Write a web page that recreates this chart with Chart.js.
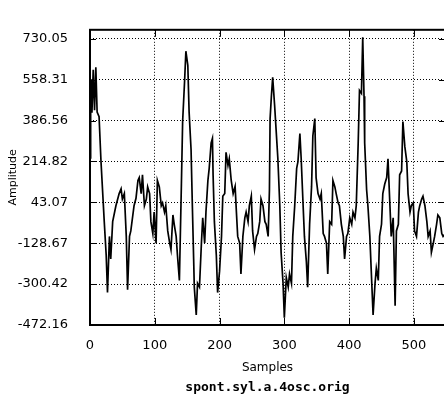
<html>
<head>
<script src="https://cdn.jsdelivr.net/npm/chart.js@4.4.0/dist/chart.umd.min.js"></script>
<style>
body { margin: 0; background: #fff; }
#wrap { width: 444px; height: 398px; overflow: hidden; }
</style>
</head>
<body>
<div id="wrap"><canvas id="myChart" width="446" height="398"></canvas></div>
<script>
// waveform: sample index and amplitude
var samples = [0,1,2,3,5,7,9,11,14,17,22,25,27,30,32,35,40,45,48,50,53,56,58,61,63,68,71,74,76,79,81,84,87,89,92,94,97,99,
  102,104,107,110,112,115,117,120,123,125,128,130,133,135,138,141,143,146,148,151,153,156,158,160,161,164,166,169,172,174,177,179,
  182,184,187,189,190,192,195,197,200,203,205,208,210,213,215,218,221,224,226,228,231,233,236,239,241,244,246,249,251,254,257,259,
  262,264,267,270,272,275,277,278,280,282,285,288,290,293,295,298,300,303,306,308,311,313,316,319,321,324,326,329,331,334,336,339,
  342,344,347,349,352,355,357,360,362,365,367,370,373,375,378,380,383,385,388,391,393,396,398,401,404,406,409,411,414,416,419,421,
  423,424,427,429,432,434,437,440,442,445,447,450,452,455,458,460,463,465,468,471,473,476,478,481,483,486,489,491,494,496,499,
  501,504,507,509,512,514,517,520,522,525,527,530,532,535,537,540,543,545,548];
var amplitude = [230,480,560,420,600,430,611,422,403,214,-38,-179,-336,-100,-195,-38,29,80,100,57,80,-100,-324,-100,-77,29,60,135,147,80,159,29,57,108,80,-38,-88,2,
  -128,135,108,29,41,2,29,-77,-128,-155,-10,-49,-100,-179,-285,108,383,552,678,619,422,265,29,-195,-313,-430,-297,-313,-128,-22,-128,2,
  135,186,293,312,159,-38,-179,-336,-246,-100,69,80,253,198,226,135,80,110,2,-100,-128,-258,-100,-22,2,-38,29,69,-77,-155,-100,-88,
  -38,57,29,-38,-49,-100,96,395,489,568,450,316,226,29,-167,-297,-442,-273,-313,-258,-297,-100,29,186,214,332,226,29,-100,-206,-313,-49,
  108,322,395,147,80,57,80,-88,-100,-128,-258,-38,-49,135,108,80,41,29,-49,-100,-195,-100,-88,-22,-49,2,-22,29,293,513,501,737,
  489,293,96,29,-100,-234,-430,-297,-234,-285,-100,-49,80,120,147,226,29,-100,-22,-391,-77,-49,159,175,383,277,214,80,2,29,41,
  -77,-100,2,29,57,69,29,-38,-100,-77,-167,-128,-100,-49,-10,-22,-88,-100,-90];

var yTicks = [730.05, 558.31, 386.56, 214.82, 43.07, -128.67, -300.42, -472.16];
var xTicks = [0, 100, 200, 300, 400, 500];
var xLabel = 'Samples';
var yLabel = 'Amplitude';
var caption = 'spont.syl.a.4osc.orig';

var points = samples.map(function (s, i) { return { x: s, y: amplitude[i] }; });

// frame, short solid inner tick marks and the caption under the axis title
var framePlugin = {
  id: 'frame',
  afterDraw: function (chart) {
    var ctx = chart.ctx, a = chart.chartArea;
    var xs = chart.scales.x, ys = chart.scales.y;
    ctx.save();
    ctx.strokeStyle = '#000';
    ctx.lineWidth = 1;
    ctx.beginPath();
    yTicks.forEach(function (v) {
      var p = Math.round(ys.getPixelForValue(v)) + 0.5;
      ctx.moveTo(a.left, p); ctx.lineTo(a.left + 6, p);
      ctx.moveTo(a.right - 6, p); ctx.lineTo(a.right, p);
    });
    xTicks.forEach(function (v) {
      var p = Math.round(xs.getPixelForValue(v)) + 0.5;
      ctx.moveTo(p, a.bottom); ctx.lineTo(p, a.bottom - 7);
      ctx.moveTo(p, a.top); ctx.lineTo(p, a.top + 7);
    });
    ctx.stroke();
    ctx.lineWidth = 2;
    ctx.strokeRect(a.left, a.top, a.right - a.left, a.bottom - a.top);
    ctx.fillStyle = '#000';
    ctx.font = 'bold 13px "DejaVu Sans Mono"';
    ctx.textAlign = 'center';
    ctx.textBaseline = 'middle';
    ctx.fillText(caption, (a.left + a.right) / 2, 388);
    ctx.restore();
  }
};

var ctx = document.getElementById('myChart').getContext('2d');
var chart = new Chart(ctx, {
  type: 'line',
  data: {
    datasets: [{
      data: points,
      borderColor: '#000',
      borderWidth: 1.7,
      pointRadius: 0,
      tension: 0,
      fill: false
    }]
  },
  options: {
    responsive: false,
    animation: false,
    layout: { padding: { top: 12, right: 1, bottom: 0, left: 0 } },
    plugins: { legend: { display: false }, tooltip: { enabled: false } },
    scales: {
      x: {
        type: 'linear',
        min: 0,
        max: 548,
        afterBuildTicks: function (s) { s.ticks = xTicks.map(function (v) { return { value: v }; }); },
        afterFit: function (s) { s.height = 73; },
        grid: { color: '#000', lineWidth: 1, drawTicks: false },
        border: { display: false, dash: [1, 2] },
        ticks: { color: '#000', padding: 13, maxRotation: 0, font: { family: 'DejaVu Sans', size: 13 } },
        title: { display: true, text: xLabel, color: '#000', padding: { top: 0, bottom: 23 }, font: { family: 'DejaVu Sans', size: 12 } }
      },
      y: {
        min: -472.16,
        max: 768,
        afterBuildTicks: function (s) { s.ticks = yTicks.map(function (v) { return { value: v }; }); },
        afterFit: function (s) { s.width = 90; },
        grid: { color: '#000', lineWidth: 1, drawTicks: false },
        border: { display: false, dash: [1, 2] },
        ticks: {
          color: '#000', padding: 22, font: { family: 'DejaVu Sans', size: 13 },
          callback: function (v) { return v.toFixed(2); }
        },
        title: { display: true, text: yLabel, color: '#000', padding: { top: 7, bottom: 0 }, font: { family: 'DejaVu Sans', size: 11 } }
      }
    }
  },
  plugins: [framePlugin]
});
</script>
</body>
</html>
